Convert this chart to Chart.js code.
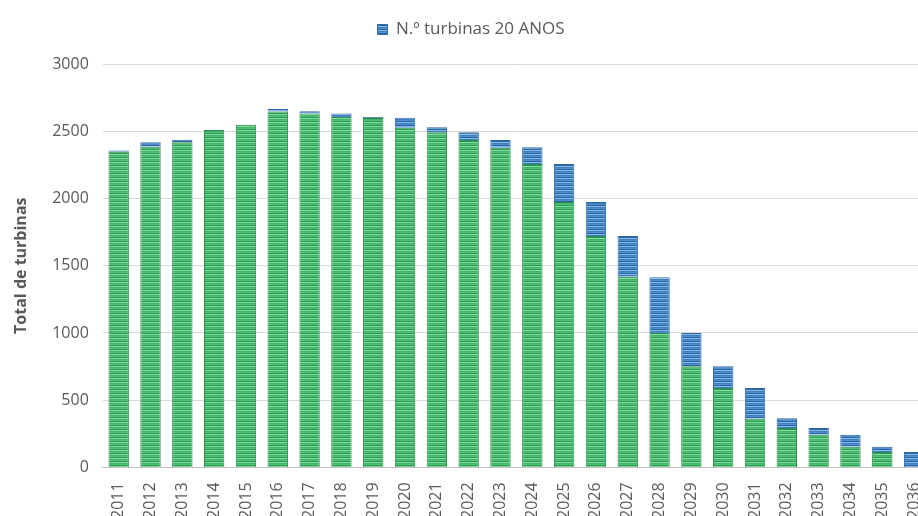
<!DOCTYPE html>
<html>
<head>
<meta charset="utf-8">
<script src="https://cdn.jsdelivr.net/npm/chart.js@4"></script>
<style>
  html, body { margin: 0; padding: 0; background: #fff; overflow: hidden; }
  #wrap { width: 952px; height: 526px; position: relative; }
</style>
</head>
<body>
<div id="wrap"><canvas id="barChart"></canvas></div>
<script>
// Anos
var anos = ['2011','2012','2013','2014','2015','2016','2017','2018','2019','2020','2021','2022','2023',
            '2024','2025','2026','2027','2028','2029','2030','2031','2032','2033','2034','2035','2036'];
// Turbinas que continuam (parte verde)
var turbinasRestantes = [2348, 2385, 2418, 2509, 2549, 2646, 2631, 2606, 2599, 2526, 2492, 2435, 2378,
                         2256, 1973, 1720, 1417, 1000, 752, 590, 362, 293, 243, 154, 114, 0];
// N.º turbinas 20 ANOS (parte azul)
var turbinas20Anos = [8, 33, 19, 0, 0, 20, 18, 25, 7, 75, 37, 57, 57,
                      125, 283, 253, 303, 415, 248, 162, 228, 72, 50, 89, 40, 114];
var yTicks = [0, 500, 1000, 1500, 2000, 2500, 3000];

// padrão de riscas horizontais
function riscas(cores) {
    var c = document.createElement('canvas');
    c.width = 4; c.height = cores.length;
    var g = c.getContext('2d');
    cores.forEach(function (cor, i) {
        g.fillStyle = cor;
        g.fillRect(0, i, 4, 1);
    });
    return g.createPattern(c, 'repeat');
}
var verde = riscas(['#4cc274', '#2e9853', '#82dca0', '#40b468']);
var azul = riscas(['#4d8dcc', '#2b65a3', '#84b9e8', '#3f7fc0']);

// espaço extra por baixo da legenda
var margemLegenda = {
    id: 'margemLegenda',
    beforeInit: function (chart) {
        var fitOriginal = chart.legend.fit;
        chart.legend.fit = function () {
            fitOriginal.bind(chart.legend)();
            this.height += 16;
        };
    }
};

var ctxBar = document.getElementById('barChart').getContext('2d');
var barChart = new Chart(ctxBar, {
    type: 'bar',
    data: {
        labels: anos,
        datasets: [{
            label: 'Total',
            data: turbinasRestantes,
            backgroundColor: verde,
            borderColor: '#2d8c4a',
            borderWidth: 1
        }, {
            label: 'N.º turbinas 20 ANOS',
            data: turbinas20Anos,
            backgroundColor: azul,
            borderColor: '#2e69a6',
            borderWidth: 1
        }]
    },
    options: {
        responsive: true,
        maintainAspectRatio: false,
        animation: false,
        datasets: { bar: { categoryPercentage: 0.64, barPercentage: 1 } },
        layout: { padding: { top: 7, right: 22, left: 12, bottom: 0 } },
        plugins: {
            legend: {
                position: 'top',
                labels: {
                    filter: function (item) { return item.datasetIndex === 1; },
                    boxWidth: 10,
                    boxHeight: 10,
                    padding: 14,
                    color: '#595959',
                    font: { family: 'Open Sans', size: 17 }
                }
            },
            tooltip: { enabled: false }
        },
        scales: {
            x: {
                stacked: true,
                grid: { display: false },
                border: { color: '#bfbfbf', width: 1 },
                ticks: {
                    color: '#595959',
                    maxRotation: 90,
                    minRotation: 90,
                    autoSkip: false,
                    padding: 7,
                    font: { family: 'Open Sans', size: 16 }
                }
            },
            y: {
                stacked: true,
                min: 0,
                max: 3000,
                afterBuildTicks: function (axis) {
                    axis.ticks = yTicks.map(function (v) { return { value: v }; });
                },
                grid: { color: '#d9d9d9', drawTicks: false },
                border: { display: false },
                ticks: {
                    color: '#595959',
                    padding: 14,
                    font: { family: 'Open Sans', size: 16 },
                    callback: function (v) { return String(v); }
                },
                title: {
                    display: true,
                    text: 'Total de turbinas',
                    color: '#595959',
                    padding: { top: 0, bottom: 7 },
                    font: { family: 'Open Sans', size: 16, weight: 'bold' }
                }
            }
        }
    },
    plugins: [margemLegenda]
});
</script>
</body>
</html>
